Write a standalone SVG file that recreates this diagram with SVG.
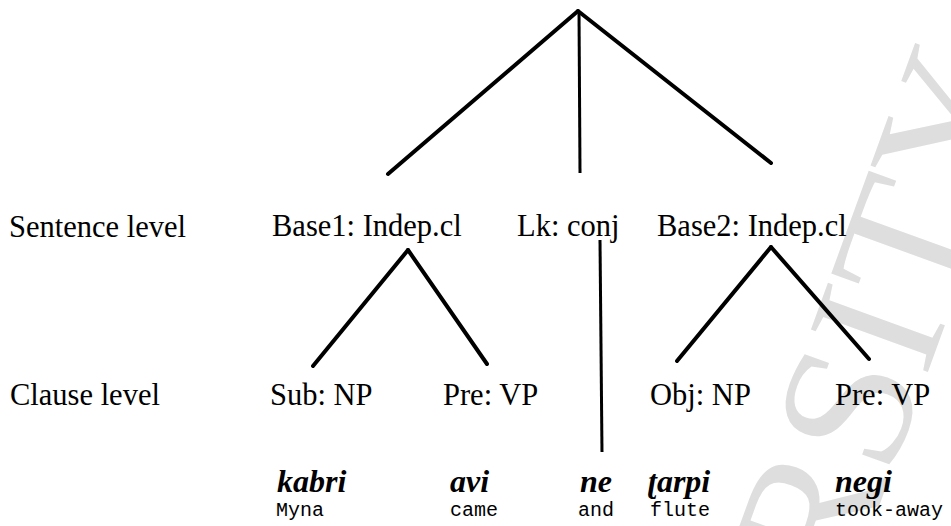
<svg xmlns="http://www.w3.org/2000/svg" width="951" height="526" viewBox="0 0 951 526">
<style>
.lbl{font-family:"Liberation Serif","Times New Roman",serif;font-size:30.5px;fill:#000}
.word{font-family:"Liberation Serif","Times New Roman",serif;font-size:32px;font-weight:bold;font-style:italic;fill:#000}
.gloss{font-family:"Liberation Mono","Courier New",monospace;font-size:20px;fill:#000}
.edge{stroke:#000;stroke-width:4;stroke-linecap:round;fill:none}
.vert{stroke:#000;stroke-width:3;fill:none}
.wm{font-family:"Liberation Serif","Times New Roman",serif;font-size:190px;fill:#dedede}
</style>
<rect width="951" height="526" fill="#fff"/>
<g id="watermark">
<text class="wm" x="846" y="597" transform="rotate(-70 846 597)">RSITY</text>
</g>
<g id="connectors">
<line class="edge" x1="578" y1="11" x2="388" y2="174"/>
<line class="vert" x1="579" y1="11" x2="580" y2="173"/>
<line class="edge" x1="578" y1="11" x2="771" y2="163"/>
<line class="edge" x1="408" y1="250" x2="313" y2="366"/>
<line class="edge" x1="408" y1="250" x2="487" y2="364"/>
<line class="vert" x1="600" y1="240" x2="602" y2="452"/>
<line class="edge" x1="771" y1="247" x2="677" y2="361"/>
<line class="edge" x1="771" y1="247" x2="869" y2="359"/>
</g>
<g id="level-sentence"><text class="lbl" x="9" y="237">Sentence level</text></g>
<g id="level-clause"><text class="lbl" x="10" y="405">Clause level</text></g>
<g id="base1"><text class="lbl" x="272" y="236">Base1: Indep.cl</text></g>
<g id="lk"><text class="lbl" x="517" y="236">Lk: conj</text></g>
<g id="base2"><text class="lbl" x="657" y="236">Base2: Indep.cl</text></g>
<g id="sub"><text class="lbl" x="270" y="405">Sub: NP</text></g>
<g id="pre1"><text class="lbl" x="443" y="405">Pre: VP</text></g>
<g id="obj"><text class="lbl" x="650" y="405">Obj: NP</text></g>
<g id="pre2"><text class="lbl" x="835" y="405">Pre: VP</text></g>
<g id="w-kabri"><text class="word" x="277" y="492">kabri</text><text class="gloss" x="276" y="516">Myna</text></g>
<g id="w-avi"><text class="word" x="450" y="492">avi</text><text class="gloss" x="450" y="516">came</text></g>
<g id="w-ne"><text class="word" x="580" y="492">ne</text><text class="gloss" x="578" y="516">and</text></g>
<g id="w-tarpi"><text class="word" x="648" y="492">ʈarpi</text><text class="gloss" x="650" y="516">flute</text></g>
<g id="w-negi"><text class="word" x="835" y="492">negi</text><text class="gloss" x="835" y="516">took-away</text></g>
</svg>
